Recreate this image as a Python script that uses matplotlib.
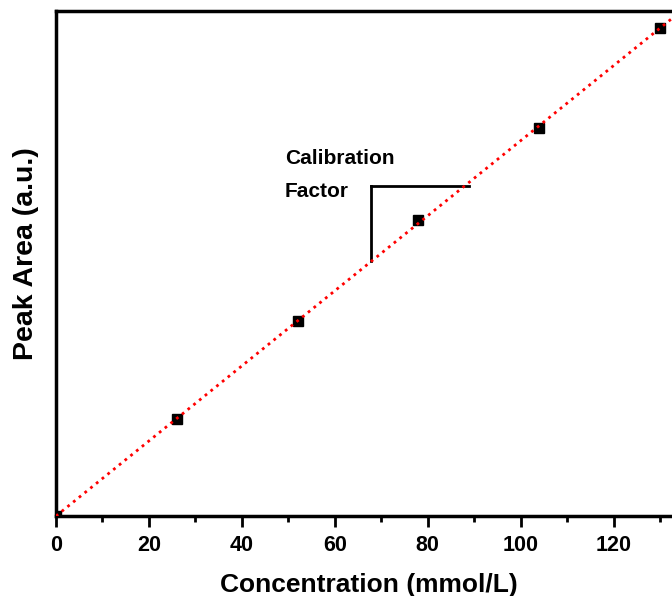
import numpy as np
import matplotlib.pyplot as plt

plt.rcParams['font.family'] = ['Liberation Sans', 'DejaVu Sans']
plt.rcParams['font.weight'] = 'bold'

# data
conc = [0, 26, 52, 78, 104, 130]
area = [0.0, 0.97, 1.95, 2.96, 3.88, 4.88]
x_ticks = [0, 20, 40, 60, 80, 100, 120]

# linear fit through the origin
c = np.array(conc)
a = np.array(area)
slope = np.sum(c * a) / np.sum(c ** 2)
fit_x = np.array([0, 140])
fit_y = slope * fit_x

fig = plt.figure(figsize=(6.72, 5.96), dpi=100)
ax = fig.add_axes([0.0833, 0.1342, 0.93, 0.8473])

ax.plot(conc, area, 's', color='black', markersize=7, zorder=3)
ax.plot(fit_x, fit_y, ':', color='red', linewidth=2, zorder=4)

# calibration triangle
ax.plot([67.8, 67.8], [2.55, 3.30], color='black', lw=2)
ax.plot([67.8, 88.9], [3.30, 3.30], color='black', lw=2)
ax.text(49.3, 3.58, 'Calibration', fontsize=15, fontweight='bold', va='center')
ax.text(49.3, 3.25, 'Factor', fontsize=15, fontweight='bold', va='center')

ax.set_xlim(0, 134.5)
ax.set_ylim(0, 5.05)
ax.set_xticks(x_ticks)
ax.set_xticks(np.arange(10, 135, 20), minor=True)
ax.set_yticks([])
ax.tick_params(axis='x', which='major', direction='out', length=8, width=2,
               labelsize=15.5, pad=6)
ax.tick_params(axis='x', which='minor', direction='out', length=4, width=2)
for lab in ax.get_xticklabels():
    lab.set_fontweight('bold')

for s in ['left', 'bottom', 'top']:
    ax.spines[s].set_linewidth(2.5)
ax.spines['right'].set_visible(False)

ax.set_xlabel('Concentration (mmol/L)', fontsize=19, fontweight='bold', labelpad=12)
ax.set_ylabel('Peak Area (a.u.)', fontsize=20.5, fontweight='bold')
ax.yaxis.set_label_coords(-0.027, 0.52)

fig.savefig('out.png', dpi=100)
